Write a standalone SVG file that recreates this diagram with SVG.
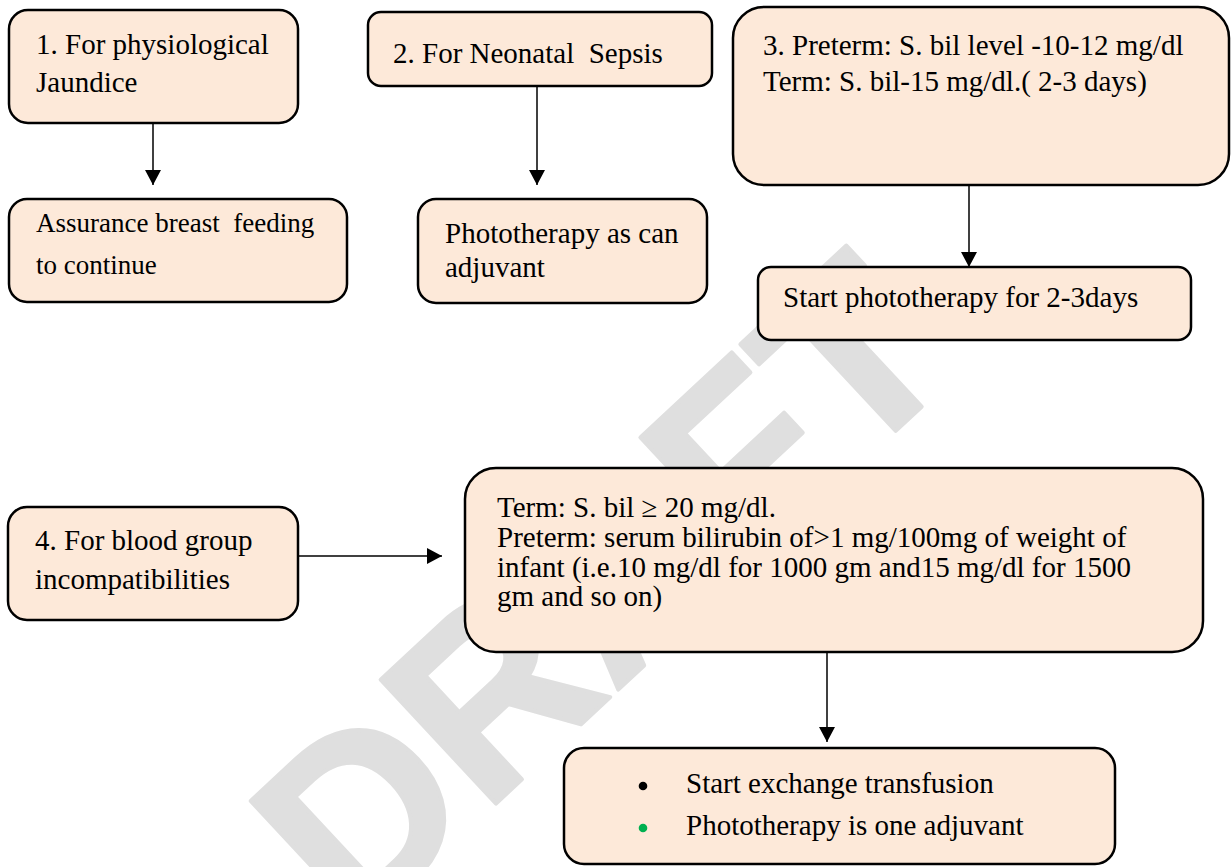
<svg xmlns="http://www.w3.org/2000/svg" width="1231" height="867" viewBox="0 0 1231 867">
  <style>
    .box { fill: #fde9d9; stroke: #000; stroke-width: 2.5; }
    .t { font-family: "Liberation Serif", "Times New Roman", serif; font-size: 29px; fill: #000; white-space: pre; }
    .small { font-size: 27px; }
    .link { stroke: #000; stroke-width: 1.5; fill: none; marker-end: url(#head); }
    .wm { font-family: "Liberation Sans", Arial, sans-serif; font-weight: bold; font-size: 246px; fill: #dfdfdf; stroke: #dfdfdf; stroke-width: 4; stroke-linejoin: round; }
  </style>
  <defs>
    <marker id="head" viewBox="0 0 15 16" refX="15" refY="8" markerWidth="15" markerHeight="16" markerUnits="userSpaceOnUse" orient="auto">
      <path d="M0,0 L15,8 L0,16 Z" fill="#000"/>
    </marker>
  </defs>

  <rect width="1231" height="867" fill="#fff"/>

  <!-- background watermark -->
  <text class="wm" transform="translate(354,936) rotate(-43)">DRAFT</text>

  <g id="n1">
    <rect class="box" x="9" y="10" width="289" height="113" rx="19"/>
    <text class="t" x="36" y="54">1. For physiological</text>
    <text class="t" x="36" y="92">Jaundice</text>
  </g>
  <g id="n1a">
    <rect class="box" x="9" y="199" width="338" height="103" rx="18"/>
    <text class="t small" x="36" y="232">Assurance breast  feeding</text>
    <text class="t small" x="36" y="274">to continue</text>
  </g>

  <g id="n2">
    <rect class="box" x="368" y="12" width="344" height="74" rx="13"/>
    <text class="t" x="393" y="63">2. For Neonatal  Sepsis</text>
  </g>
  <g id="n2a">
    <rect class="box" x="418" y="199" width="289" height="104" rx="18"/>
    <text class="t" x="445" y="243">Phototherapy as can</text>
    <text class="t" x="445" y="277">adjuvant</text>
  </g>

  <g id="n3">
    <rect class="box" x="733" y="7" width="496" height="178" rx="31"/>
    <text class="t" x="763" y="55">3. Preterm: S. bil level -10-12 mg/dl</text>
    <text class="t" x="763" y="91">Term: S. bil-15 mg/dl.( 2-3 days)</text>
  </g>
  <g id="n3a">
    <rect class="box" x="758" y="267" width="433" height="73" rx="13"/>
    <text class="t" x="783" y="307">Start phototherapy for 2-3days</text>
  </g>

  <g id="n4">
    <rect class="box" x="8" y="507" width="290" height="113" rx="19"/>
    <text class="t" x="35" y="550">4. For blood group</text>
    <text class="t" x="35" y="589">incompatibilities</text>
  </g>
  <g id="n4a">
    <rect class="box" x="465" y="468" width="738" height="184" rx="31"/>
    <text class="t" x="497" y="517">Term: S. bil ≥ 20 mg/dl.</text>
    <text class="t" x="497" y="547">Preterm: serum bilirubin of&gt;1 mg/100mg of weight of</text>
    <text class="t" x="497" y="577">infant (i.e.10 mg/dl for 1000 gm and15 mg/dl for 1500</text>
    <text class="t" x="497" y="606">gm and so on)</text>
  </g>
  <g id="n4b">
    <rect class="box" x="564" y="748" width="551" height="116" rx="20"/>
    <circle cx="643" cy="786" r="4.3" fill="#000"/>
    <text class="t" x="686" y="793">Start exchange transfusion</text>
    <circle cx="643" cy="828" r="4.3" fill="#00b050"/>
    <text class="t" x="686" y="835">Phototherapy is one adjuvant</text>
  </g>

  <g id="connectors">
    <line class="link" x1="153" y1="123" x2="153" y2="185"/>
    <line class="link" x1="537" y1="86" x2="537" y2="185"/>
    <line class="link" x1="969" y1="185" x2="969" y2="267"/>
    <line class="link" x1="298" y1="556" x2="442" y2="556"/>
    <line class="link" x1="827" y1="652" x2="827" y2="742"/>
  </g>
</svg>
